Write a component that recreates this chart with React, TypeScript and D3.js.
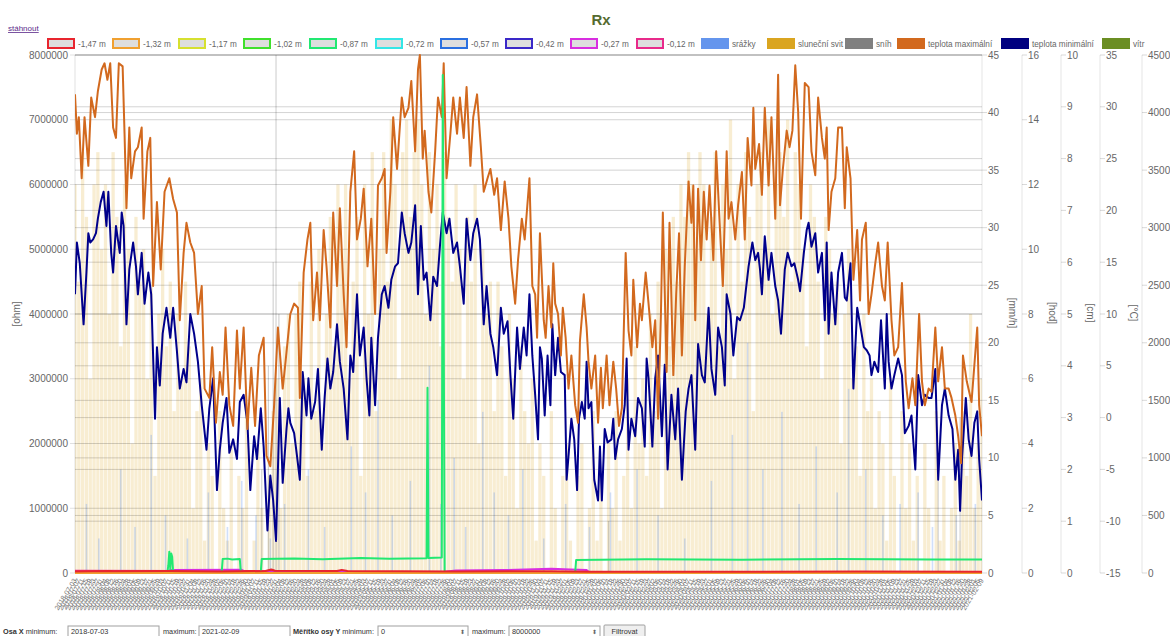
import React from "react";
import * as d3 from "d3";

// ---------- DATA ----------
const startDate = "2018-07-03";
const endDate = "2021-02-09";

const depthLabels = ["-1,47 m", "-1,32 m", "-1,17 m", "-1,02 m", "-0,87 m", "-0,72 m", "-0,57 m", "-0,42 m", "-0,27 m", "-0,12 m"];
const depthColors = ["#e8252e", "#f0a030", "#d6e030", "#40e02c", "#22e872", "#34e6e6", "#2a6fe0", "#3a28c8", "#d82ee0", "#e82a8a"];
const otherLabels = ["srážky", "sluneční svit", "sníh", "teplota maximální", "teplota minimální", "vítr"];
const otherColors = ["#6495ed", "#daa520", "#808080", "#d2691e", "#000080", "#6b8e23"];

// [day offset from start, °C]
const tempMax: [number, number][] = [
  [0,31.2],[2,27.4],[4,29.0],[7,23.1],[10,29.0],[14,24.3],[17,30.9],[21,29.0],[24,31.5],[28,33.6],[31,34.2],[34,32.6],[37,34.2],[40,28.0],[43,27.0],[46,34.2],[50,33.9],[52,27.4],[54,20.2],[57,28.0],[59,23.1],[63,25.7],[66,26.1],[70,28.0],[72,19.2],[76,25.7],[79,27.0],[82,12.7],[86,20.8],[90,14.3],[94,21.8],[99,23.1],[103,21.1],[107,19.8],[110,9.4],[114,15.9],[117,18.8],[121,16.9],[125,15.9],[129,10.0],[133,12.7],[136,2.8],[141,1.9],[144,6.8],[148,-0.5],[152,4.4],[155,2.2],[158,8.7],[162,1.2],[166,-0.8],[170,8.4],[173,2.8],[177,8.7],[181,-1.1],[185,4.8],[189,-0.8],[193,6.0],[198,7.7],[201,-3.7],[205,-4.7],[209,1.2],[213,8.7],[218,2.8],[221,5.4],[226,10.0],[230,11.0],[234,10.6],[236,1.9],[240,14.0],[244,17.2],[247,18.8],[250,9.4],[254,14.0],[257,9.4],[261,18.1],[264,14.6],[268,8.7],[271,19.8],[275,12.7],[278,20.2],[282,11.9],[285,6.8],[289,21.8],[293,25.7],[296,17.2],[300,19.2],[303,22.1],[307,14.6],[311,19.2],[315,10.0],[318,22.4],[322,23.1],[325,24.0],[327,15.9],[331,21.8],[334,29.0],[338,24.0],[343,30.9],[346,29.0],[350,29.9],[353,32.5],[357,25.7],[360,33.6],[362,35.0],[365,25.0],[367,27.7],[371,21.8],[374,19.8],[378,25.7],[381,30.9],[385,29.0],[387,34.2],[390,23.1],[394,27.4],[397,30.9],[401,27.4],[404,30.9],[408,27.0],[411,31.9],[415,24.3],[418,29.0],[422,31.2],[426,26.1],[429,21.8],[433,23.1],[436,24.0],[440,21.5],[443,23.1],[447,18.1],[451,22.8],[455,19.2],[458,14.6],[462,11.0],[465,15.2],[469,19.2],[472,17.2],[477,23.1],
  [480,12.7],[483,11.9],[485,7.7],[488,17.8],[492,9.4],[494,7.7],[497,12.7],[500,8.7],[502,14.9],[504,11.0],[507,10.0],[510,6.0],[512,10.6],[515,7.7],[518,2.8],[521,6.0],[525,1.2],[528,-0.5],[530,7.4],[534,11.9],[537,8.7],[539,5.4],[542,2.8],[546,6.0],[549,-0.5],[552,4.8],[554,0.9],[558,6.0],[561,1.2],[565,5.4],[568,2.8],[571,-0.8],[574,0.9],[578,15.9],[581,8.4],[584,6.0],[586,13.3],[590,6.8],[593,11.0],[595,9.4],[599,14.0],[602,11.0],[606,6.8],[609,9.4],[612,-0.1],[615,10.0],[617,19.8],[621,4.4],[624,18.8],[628,4.1],[631,11.9],[634,17.8],[637,6.0],[640,14.6],[644,22.8],[647,18.8],[649,22.4],[651,9.4],[654,22.1],[657,15.2],[660,21.8],[663,17.2],[666,22.4],[670,15.2],[673,25.7],[677,18.1],[680,12.7],[684,25.7],[686,19.2],[689,20.8],[693,17.2],[696,20.5],[700,23.7],[703,17.2],[706,27.0],[710,22.4],[712,29.9],[714,24.0],[718,26.4],[721,21.5],[724,29.9],[728,22.4],[731,29.0],[735,19.2],[738,33.1],[740,20.5],[743,24.0],[747,27.7],[750,26.1],[753,27.7],[756,34.0],[759,29.6],[762,19.2],[766,32.3],[770,31.9],[773,25.7],[777,23.4],[780,30.9],[784,27.0],[787,25.0],[789,28.0],[791,18.1],[794,21.8],[798,23.1],[801,28.0],[805,28.0],[808,20.2],[810,26.1],[814,23.1],[817,13.3],[821,18.1],[824,11.3],[826,17.2],[830,18.8],[833,10.0],[836,11.9],[840,14.9],[843,16.9],[847,12.7],[850,11.3],[853,16.9],[857,9.4],[860,6.0],[864,6.8],[868,13.0],[872,3.5],[875,0.9],[879,3.8],[882,1.2],[886,10.0],[889,3.5],[892,1.2],[896,2.8],[899,2.5],[903,8.7],[906,3.5],[910,6.8],[913,2.8],[917,2.8],[920,1.9],[924,0.2],[927,-1.8],[930,-4.4],[932,6.0],[936,3.5],[941,1.5],[947,8.7],[949,1.2],[952,-1.8]
];

const tempMin: [number, number][] = [
  [0,11.9],[2,16.9],[5,14.9],[9,9.0],[12,14.0],[14,17.8],[16,16.9],[19,17.2],[22,17.8],[24,19.2],[27,20.8],[30,21.8],[33,18.5],[35,21.8],[38,15.9],[40,14.0],[43,18.5],[47,15.9],[49,19.8],[51,18.5],[54,9.0],[57,14.3],[61,16.9],[64,14.6],[66,11.9],[70,15.9],[73,11.0],[77,14.0],[80,11.9],[84,-0.1],[86,6.8],[89,3.1],[92,8.1],[96,10.6],[100,7.7],[103,10.6],[107,6.4],[110,2.8],[114,4.7],[117,3.4],[121,10.0],[125,8.1],[129,5.4],[133,1.2],[138,-3.1],[141,0.9],[145,3.8],[149,-7.0],[152,-3.1],[155,-0.5],[159,1.9],[162,-3.4],[166,-2.1],[170,-4.0],[173,1.5],[177,2.2],[181,-0.5],[184,-7.0],[188,-1.8],[191,-4.0],[195,0.9],[198,-2.8],[202,-10.9],[205,-5.6],[208,-8.0],[211,-11.9],[215,1.9],[218,-6.3],[222,-1.1],[224,0.9],[226,-0.5],[230,-1.5],[233,-3.7],[236,-6.0],[239,4.4],[243,0.2],[245,3.8],[248,-0.1],[252,1.5],[255,4.7],[259,-3.1],[262,1.9],[265,5.7],[268,2.8],[271,4.4],[275,9.0],[278,5.4],[282,2.8],[286,-2.1],[289,6.0],[292,4.4],[296,11.9],[299,6.0],[303,8.7],[306,3.8],[309,0.2],[311,7.7],[315,1.2],[318,7.7],[322,11.9],[325,12.7],[329,10.6],[332,13.3],[336,14.6],[339,14.9],[343,19.8],[346,17.8],[350,15.9],[353,16.9],[357,20.5],[360,11.9],[363,18.5],[366,13.3],[369,14.0],[373,9.4],[376,13.6],[380,12.7],[383,16.5],[386,19.8],[390,17.8],[393,19.2],[397,15.9],[401,16.9],[404,14.6],[408,11.0],[411,19.2],[415,15.2],[418,17.8],[422,19.2],[425,17.2],[429,9.0],[432,12.7],[436,8.1],[439,6.8],[443,4.1],[447,10.6],[450,8.1],[454,9.3],[457,4.1],[460,-0.1],[464,8.7],[467,4.7],[471,8.7],[474,6.0],[477,11.9],
  [480,6.0],[483,2.2],[486,-2.1],[488,6.8],[490,5.7],[493,0.2],[496,6.0],[499,1.2],[501,9.0],[504,4.1],[507,7.7],[510,4.4],[514,4.1],[516,-6.0],[518,-3.7],[521,-0.1],[524,-2.1],[527,-7.0],[529,-0.1],[532,1.5],[535,-0.1],[537,5.4],[539,0.9],[542,1.5],[545,-6.0],[549,-8.0],[551,-2.8],[553,-8.0],[556,-1.1],[559,-2.4],[563,-2.1],[565,-0.1],[567,-4.0],[570,-2.1],[574,-1.1],[577,1.2],[579,5.7],[581,-3.1],[584,-0.1],[588,-1.8],[591,1.9],[595,0.9],[598,-2.8],[600,5.7],[602,3.8],[606,-2.8],[609,3.8],[612,6.0],[616,-1.8],[619,5.1],[622,-5.0],[626,2.2],[630,-2.1],[633,2.8],[637,-6.0],[641,0.6],[644,2.8],[647,4.1],[651,-3.1],[654,7.1],[658,4.1],[661,3.4],[665,10.6],[668,4.7],[672,2.2],[675,8.7],[679,6.8],[682,3.1],[684,11.9],[688,10.0],[691,6.0],[695,9.7],[698,9.4],[702,10.6],[705,13.0],[707,14.6],[711,16.9],[714,15.2],[717,15.9],[719,14.3],[721,11.9],[724,17.5],[728,13.3],[731,15.9],[735,12.7],[738,11.3],[741,8.1],[745,14.3],[748,15.9],[752,14.6],[755,14.9],[759,13.3],[761,12.2],[765,15.9],[768,18.1],[770,18.8],[773,16.5],[777,17.8],[780,14.0],[784,15.9],[787,9.4],[789,16.9],[791,8.1],[794,14.0],[798,9.0],[801,14.0],[805,15.9],[808,11.6],[810,11.3],[814,14.9],[817,2.8],[821,10.6],[824,9.0],[828,6.8],[831,6.5],[834,6.0],[836,4.1],[839,5.4],[843,4.4],[846,9.4],[850,2.8],[852,10.0],[854,5.4],[857,2.8],[860,4.1],[864,5.7],[868,4.1],[871,-1.5],[875,-0.8],[878,0.2],[882,-5.0],[885,4.1],[889,1.2],[892,2.2],[896,1.9],[899,1.9],[903,4.7],[906,-6.0],[910,1.2],[913,2.8],[917,0.2],[921,-1.1],[924,-6.0],[927,-3.1],[929,-9.0],[931,-4.0],[935,1.9],[938,-2.1],[941,-3.7],[944,-0.5],[947,0.6],[949,-4.0],[952,-8.0]
];

// depth sensors, [day, ohm]
const rx147: [number, number][] = [[0,25000],[37,32000],[40,26000],[100,30000],[150,25000],[200,30000],[206,55000],[210,34000],[275,30000],[280,48000],[286,30000],[400,22000],[500,28000],[540,20000],[700,20000],[820,25000],[952,18000]];
const rx132: [number, number][] = [[0,0],[952,0]];
const rx117: [number, number][] = [[0,0],[952,0]];
const rx102: [number, number][] = [[0,0],[952,0]];
const rx087: [number, number][] = [[0,15000],[97,15000],[98,120000],[99,330000],[100,60000],[101,300000],[102,250000],[103,15000],[154,15000],[155,215000],[160,222000],[165,210000],[173,216000],[174,15000],[195,15000],[196,215000],[230,225000],[260,214000],[300,230000],[330,220000],[369,226000],[370,2860000],[371,230000],[385,240000],[386,7690000],[388,10000],[525,10000],[526,200000],[600,212000],[700,205000],[800,215000],[900,208000],[952,210000]];
const rx072: [number, number][] = [[0,0],[952,0]];
const rx057: [number, number][] = [[0,0],[952,0]];
const rx042: [number, number][] = [[0,0],[952,0]];
const rx027: [number, number][] = [[0,10000],[95,15000],[100,45000],[175,50000],[180,10000],[388,20000],[400,40000],[450,45000],[500,65000],[520,55000],[537,45000],[540,5000],[952,5000]];
const rx012: [number, number][] = [[0,35000],[120,32000],[245,30000],[250,8000],[952,8000]];
const depthSeries = [rx147, rx132, rx117, rx102, rx087, rx072, rx057, rx042, rx027, rx012];

// sunshine hours, one value every 4 days
const sunshine = [
  12,9,13,11,6,12,13,10,12,8,
  13,11,7,12,10,4,11,9,10,6,
  9,3,8,10,7,9,5,8,6,9,
  7,2,5,6,1,4,3,0,5,2,
  1,4,0,3,2,5,0,1,4,2,
  0,3,5,6,2,7,8,4,8,9,
  6,3,9,5,10,4,8,11,7,12,
  10,12,6,9,11,3,12,8,13,5,
  10,13,9,14,12,6,13,14,11,13,
  14,12,8,13,10,12,7,13,11,9,
  12,10,6,11,9,12,4,10,8,9,
  5,9,7,3,8,6,2,7,5,4,
  6,1,4,3,0,5,2,0,3,4,
  1,0,3,4,0,2,5,1,3,0,
  4,2,5,1,3,6,2,7,4,6,
  3,8,5,9,2,10,7,11,9,12,
  11,13,12,10,13,12,8,11,13,7,
  12,10,14,6,12,9,13,11,5,12,
  13,10,14,8,12,13,11,14,9,13,
  12,10,7,12,11,9,6,11,10,8,
  9,4,8,10,6,7,3,8,5,6,
  2,5,4,1,6,3,0,5,2,4,
  1,3,0,4,2,0,5,1,3,0,
  2,4,1,5,3,8,2,4,6
];
// precipitation [day, mm]
const precipitation: [number, number][] = [[12,6],[25,3],[48,9],[63,4],[80,12],[95,5],[118,3],[140,7],[160,4],[175,8],[190,5],[205,3],[220,6],[245,9],[262,4],[290,11],[305,7],[318,15],[333,5],[352,8],[372,18],[384,6],[398,10],[410,4],[428,14],[440,7],[455,5],[470,9],[492,3],[515,6],[540,4],[562,7],[590,9],[612,5],[640,3],[668,8],[690,12],[706,20],[722,9],[742,14],[760,6],[778,11],[800,7],[812,16],[830,9],[848,5],[866,6],[885,7],[900,4],[925,5],[945,6]];
// snow [day, cm]
const snow: [number, number][] = [[196,2],[203,4],[208,6],[211,14],[214,5],[560,1],[906,2],[929,3]];

const ohmTicks = [0,1000000,2000000,3000000,4000000,5000000,6000000,7000000,8000000];
const mmTicks = [0,5,10,15,20,25,30,35,40,45];
const hodTicks = [0,2,4,6,8,10,12,14,16];
const cmTicks = [0,1,2,3,4,5,6,7,8,9,10];
const degTicks = [-15,-10,-5,0,5,10,15,20,25,30,35];
const windTicks = [0,500,1000,1500,2000,2500,3000,3500,4000,4500];

// ---------- LAYOUT ----------
const W = 1170, H = 636;
const L = 75, R = 982, T = 55, B = 573;
const FONT = "'Liberation Sans', Arial, Helvetica, sans-serif";
const legendX = [48,113,179,244,310,376,441,506,571,637,702,768,846,898,1002,1103];

export default function App() {
  const t0 = new Date(startDate + "T00:00:00Z");
  const t1 = new Date(endDate + "T00:00:00Z");
  const x = d3.scaleUtc().domain([t0, t1]).range([L, R]);
  const dx = (day: number) => x(d3.utcDay.offset(t0, day));
  const dayW = dx(1) - dx(0);

  const yOhm = d3.scaleLinear().domain([0, 8000000]).range([B, T]);
  const yMm = d3.scaleLinear().domain([0, 45]).range([B, T]);
  const yHod = d3.scaleLinear().domain([0, 16]).range([B, T]);
  const yCm = d3.scaleLinear().domain([0, 10]).range([B, T]).clamp(true);
  const yDeg = d3.scaleLinear().domain([-15, 35]).range([B, T]);
  const yWind = d3.scaleLinear().domain([0, 4500]).range([B, T]);

  const lineDeg = d3.line<[number, number]>().x(d => dx(d[0])).y(d => yDeg(d[1]));
  const lineOhm = d3.line<[number, number]>().x(d => dx(d[0])).y(d => yOhm(d[1]));

  const allDays = d3.utcDay.range(t0, d3.utcDay.offset(t1, 1));
  const labelDays = allDays.filter((_, i) => i % 4 === 0);
  const fmt = d3.utcFormat("%Y-%m-%d");

  const gridSets: { scale: d3.ScaleLinear<number, number>; ticks: number[] }[] = [
    { scale: yOhm, ticks: ohmTicks },
    { scale: yMm, ticks: mmTicks },
    { scale: yHod, ticks: hodTicks },
    { scale: yCm, ticks: cmTicks },
    { scale: yDeg, ticks: degTicks },
    { scale: yWind, ticks: windTicks },
  ];

  const rightAxes = [
    { x: 982, scale: yMm, ticks: mmTicks, title: "[mm/h]", tx: 1012 },
    { x: 1022, scale: yHod, ticks: hodTicks, title: "[hod]", tx: 1052 },
    { x: 1061, scale: yCm, ticks: cmTicks, title: "[cm]", tx: 1090 },
    { x: 1100, scale: yDeg, ticks: degTicks, title: "[°C]", tx: 1133 },
    { x: 1142, scale: yWind, ticks: windTicks, title: "", tx: 0 },
  ];

  const legendItems = [
    ...depthLabels.map((l, i) => ({ label: l, color: depthColors[i], outline: true })),
    ...otherLabels.map((l, i) => ({ label: l, color: otherColors[i], outline: false })),
  ];

  const sunW = dayW * 4 * 0.86;

  return (
    <svg width={W} height={H} style={{ display: "block", position: "absolute", left: 0, top: 0 }} fontFamily={FONT}>
      <rect x={0} y={0} width={W} height={H} fill="#fff" />
      <defs>
        <clipPath id="plot">
          <rect x={L} y={T - 1} width={R - L} height={B - T + 2} />
        </clipPath>
      </defs>

      {/* link & title */}
      <text x={8} y={31} fontSize={8} fill="#5a2a8a" textDecoration="underline">stáhnout</text>
      <text x={601} y={25} fontSize={15} fontWeight="bold" fill="#556b2f" textAnchor="middle">Rx</text>

      {/* legend */}
      {legendItems.map((it, i) => (
        <g key={i}>
          {it.outline ? (
            <rect x={legendX[i]} y={39} width={26} height={9} fill="#dedede" stroke={it.color} strokeWidth={2} />
          ) : (
            <rect x={legendX[i] - 1} y={38} width={28} height={11} fill={it.color} />
          )}
          <text x={legendX[i] + 30} y={44} fontSize={8.2} fill="#666" dominantBaseline="central">{it.label}</text>
        </g>
      ))}

      {/* bars */}
      <g clipPath="url(#plot)">
        {sunshine.map((v, i) => (
          <rect key={"s" + i} x={dx(i * 4) - sunW / 2} y={yHod(v)} width={sunW} height={B - yHod(v)} fill="rgba(218,165,32,0.2)" />
        ))}
        {precipitation.map((d, i) => (
          <rect key={"p" + i} x={dx(d[0]) - 0.8} y={yMm(d[1])} width={1.6} height={B - yMm(d[1])} fill="rgba(100,149,237,0.3)" />
        ))}
        {snow.map((d, i) => (
          <rect key={"n" + i} x={dx(d[0]) - 0.6} y={yCm(d[1])} width={1.2} height={B - yCm(d[1])} fill="rgba(128,128,128,0.35)" />
        ))}
      </g>

      {/* horizontal grid */}
      {gridSets.map((g, gi) => (
        <g key={gi}>
          {g.ticks.map(t => (
            <line key={t} x1={L} x2={R} y1={g.scale(t)} y2={g.scale(t)} stroke="rgba(0,0,0,0.09)" strokeWidth={1} />
          ))}
        </g>
      ))}

      {/* left axis */}
      <line x1={L} x2={L} y1={T} y2={B} stroke="rgba(0,0,0,0.12)" />
      {ohmTicks.map(t => (
        <g key={t}>
          <line x1={L - 5} x2={L} y1={yOhm(t)} y2={yOhm(t)} stroke="rgba(0,0,0,0.12)" />
          <text x={68} y={yOhm(t)} fontSize={10} fill="#666" textAnchor="end" dominantBaseline="central">{String(t)}</text>
        </g>
      ))}
      <text transform="translate(16,314) rotate(-90)" fontSize={10} fill="#666" textAnchor="middle" dominantBaseline="central">[ohm]</text>

      {/* right axes */}
      {rightAxes.map((a, ai) => (
        <g key={ai}>
          <line x1={a.x} x2={a.x} y1={T} y2={B} stroke="rgba(0,0,0,0.1)" />
          {a.ticks.map(t => (
            <g key={t}>
              <line x1={a.x} x2={a.x + 5} y1={a.scale(t)} y2={a.scale(t)} stroke="rgba(0,0,0,0.15)" />
              <text x={a.x + 6} y={a.scale(t)} fontSize={10} fill="#666" dominantBaseline="central">{String(t)}</text>
            </g>
          ))}
          {a.title && (
            <text transform={`translate(${a.tx},313) rotate(90)`} fontSize={10} fill="#666" textAnchor="middle" dominantBaseline="central">{a.title}</text>
          )}
        </g>
      ))}

      {/* lines */}
      <g clipPath="url(#plot)" fill="none" strokeLinejoin="round">
        <path d={lineDeg(tempMin) || ""} stroke="#00008b" strokeWidth={2} />
        <path d={lineDeg(tempMax) || ""} stroke="#d2691e" strokeWidth={2} />
        {depthSeries.map((s, i) => ({ s, i })).reverse().map(({ s, i }) => (
          <path key={i} d={lineOhm(s) || ""} stroke={depthColors[i]} strokeWidth={2} />
        ))}
      </g>

      {/* x labels */}
      {labelDays.map((d, i) => (
        <text key={i} transform={`translate(${x(d)},579) rotate(-58)`} fontSize={7} fill="#777" textAnchor="end" dominantBaseline="central">{fmt(d)}</text>
      ))}

      {/* bottom form */}
      <g fontSize={7.3} fill="#333">
        <text x={3} y={634}><tspan fontWeight="bold">Osa X</tspan> minimum:</text>
        <rect x={68} y={626} width={91} height={13} fill="#fff" stroke="#a0a0a0" />
        <text x={71} y={634}>{startDate}</text>
        <text x={163} y={634}>maximum:</text>
        <rect x={199} y={626} width={91} height={13} fill="#fff" stroke="#a0a0a0" />
        <text x={202} y={634}>{endDate}</text>
        <text x={293} y={634}><tspan fontWeight="bold">Měřítko osy Y</tspan> minimum:</text>
        <rect x={378} y={626} width={90} height={13} fill="#fff" stroke="#a0a0a0" />
        <text x={381} y={634}>0</text>
        <text x={460} y={634} fontSize={6} fill="#666">⬍</text>
        <text x={472} y={634}>maximum:</text>
        <rect x={509} y={626} width={91} height={13} fill="#fff" stroke="#a0a0a0" />
        <text x={512} y={634}>8000000</text>
        <text x={592} y={634} fontSize={6} fill="#666">⬍</text>
        <rect x={604} y={625} width={41} height={14} fill="#efefef" stroke="#a0a0a0" rx={1} />
        <text x={624.5} y={634} textAnchor="middle">Filtrovat</text>
      </g>
    </svg>
  );
}
